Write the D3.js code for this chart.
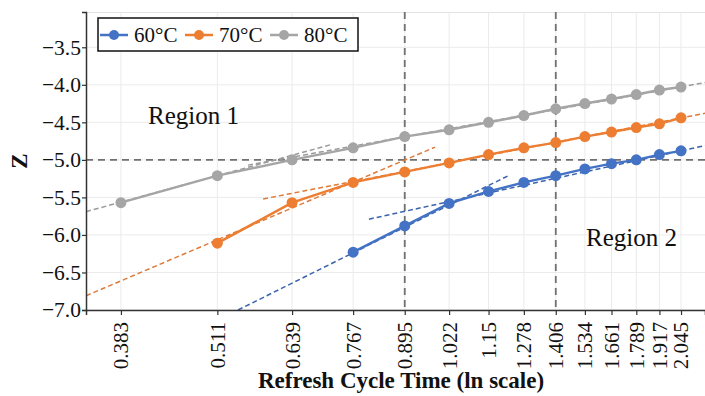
<!DOCTYPE html>
<html>
<head>
<meta charset="utf-8">
<script src="https://cdn.jsdelivr.net/npm/d3@7"></script>
<style>
  body { margin: 0; background: #fff; }
  svg text { font-family: "Liberation Serif", "Times New Roman", serif; fill: #111; }
</style>
</head>
<body>
<script>
// refresh cycle time ticks (ln scale)
const xTicks = [0.383, 0.511, 0.639, 0.767, 0.895, 1.022, 1.15, 1.278, 1.406, 1.534, 1.661, 1.789, 1.917, 2.045];
const xTickLabels = ["0.383", "0.511", "0.639", "0.767", "0.895", "1.022", "1.15", "1.278", "1.406", "1.534", "1.661", "1.789", "1.917", "2.045"];
const yTicks = [-3.5, -4.0, -4.5, -5.0, -5.5, -6.0, -6.5, -7.0];

const seriesNames = ["60°C", "70°C", "80°C"];
const z60 = [null, null, null, -6.23, -5.88, -5.58, -5.42, -5.30, -5.21, -5.12, -5.05, -5.00, -4.93, -4.88];
const z70 = [null, -6.11, -5.57, -5.30, -5.16, -5.04, -4.93, -4.84, -4.77, -4.69, -4.63, -4.57, -4.52, -4.44];
const z80 = [-5.57, -5.21, -5.00, -4.84, -4.69, -4.60, -4.50, -4.41, -4.32, -4.25, -4.19, -4.13, -4.07, -4.03];

// fitted lines [x1, z1, x2, z2]
const fit60 = [[0.5436, -7.0, 1.226, -5.20], [0.804, -5.79, 2.197, -4.81]];
const fit70 = [[0.345, -6.81, 0.980, -4.83], [0.586, -5.52, 2.197, -4.38]];
const fit80 = [[0.345, -5.69, 0.716, -4.80], [0.560, -5.07, 2.197, -3.97]];

// region boundaries
const vLines = [0.895, 1.406];
const hLine = -5.0;

const colors = ["#4472C4", "#ED7D31", "#A5A5A5"];
const fitColors = ["#3A63AE", "#DE7A3A", "#9A9A9A"];

const w = 705, h = 396;
const padL = 86, padR = 705, padT = 12, padB = 310;

const svg = d3.select("body").append("svg").attr("width", w).attr("height", h);

const x = d3.scaleLog().domain([0.345, 2.197]).range([padL, padR]);
const y = d3.scaleLinear().domain([-7.0, -3.03]).range([padB, padT]);

svg.append("defs").append("clipPath").attr("id", "plot")
  .append("rect").attr("x", padL).attr("y", padT).attr("width", padR - padL).attr("height", padB - padT);

// grid
svg.append("g").selectAll("line").data(xTicks).join("line")
  .attr("x1", d => x(d)).attr("x2", d => x(d)).attr("y1", padT).attr("y2", padB)
  .attr("stroke", "#ebebeb").attr("stroke-width", 1);
svg.append("g").selectAll("line").data(yTicks).join("line")
  .attr("x1", padL).attr("x2", padR).attr("y1", d => y(d)).attr("y2", d => y(d))
  .attr("stroke", "#ebebeb").attr("stroke-width", 1);
svg.append("line").attr("x1", padL).attr("x2", padR).attr("y1", padT + 0.5).attr("y2", padT + 0.5)
  .attr("stroke", "#e4e4e4");

// region lines
const plot = svg.append("g").attr("clip-path", "url(#plot)");
plot.selectAll(".vref").data(vLines).join("line")
  .attr("x1", d => x(d)).attr("x2", d => x(d)).attr("y1", padT).attr("y2", padB)
  .attr("stroke", "#707070").attr("stroke-width", 1.8).attr("stroke-dasharray", "7,5");
plot.append("line")
  .attr("x1", padL).attr("x2", padR).attr("y1", y(hLine)).attr("y2", y(hLine))
  .attr("stroke", "#707070").attr("stroke-width", 1.8).attr("stroke-dasharray", "7,5");

// fit lines
[fit60, fit70, fit80].forEach((fits, i) => {
  plot.append("g").selectAll("line").data(fits).join("line")
    .attr("x1", d => x(d[0])).attr("y1", d => y(d[1]))
    .attr("x2", d => x(d[2])).attr("y2", d => y(d[3]))
    .attr("stroke", fitColors[i]).attr("stroke-width", 1.5).attr("stroke-dasharray", "5,3");
});

// series
const line = d3.line().x(d => x(d[0])).y(d => y(d[1]));
[z60, z70, z80].forEach((zs, i) => {
  const pts = xTicks.map((t, j) => [t, zs[j]]).filter(d => d[1] !== null);
  plot.append("path").datum(pts).attr("d", line)
    .attr("fill", "none").attr("stroke", colors[i]).attr("stroke-width", 2.5);
  plot.append("g").selectAll("circle").data(pts).join("circle")
    .attr("cx", d => x(d[0])).attr("cy", d => y(d[1])).attr("r", 5.5)
    .attr("fill", colors[i]);
});

// axes
const xAxis = svg.append("g").attr("transform", `translate(0,${padB})`)
  .call(d3.axisBottom(x).tickValues(xTicks).tickSize(5).tickFormat((d, i) => xTickLabels[i]));
xAxis.select(".domain").attr("stroke", "#333").attr("stroke-width", 1.5);
xAxis.selectAll(".tick line").attr("stroke", "#333").attr("stroke-width", 1.2);
xAxis.selectAll(".tick text")
  .attr("font-size", 21).attr("fill", "#111")
  .attr("text-anchor", "end").attr("x", 0).attr("y", 0)
  .attr("dy", "0.33em")
  .attr("transform", "translate(0,12) rotate(-90)");

const yAxis = svg.append("g").attr("transform", `translate(${padL},0)`)
  .call(d3.axisLeft(y).tickValues(yTicks).tickSize(4).tickFormat(d3.format(".1f")));
yAxis.select(".domain").attr("stroke", "#333").attr("stroke-width", 1.5);
yAxis.selectAll(".tick line").attr("stroke", "#333").attr("stroke-width", 1.2);
yAxis.selectAll(".tick text")
  .attr("font-size", 21.5).attr("fill", "#111")
  .attr("x", -5);

// axis titles
svg.append("text").attr("x", 401).attr("y", 388)
  .attr("text-anchor", "middle").attr("font-size", 23).attr("font-weight", "bold")
  .text("Refresh Cycle Time (ln scale)");
svg.append("text").attr("transform", `translate(27,${(padT + padB) / 2}) rotate(-90)`)
  .attr("text-anchor", "middle").attr("font-size", 23).attr("font-weight", "bold")
  .text("Z");

// region labels
svg.append("text").attr("x", 148).attr("y", 124).attr("font-size", 25).text("Region 1");
svg.append("text").attr("x", 586).attr("y", 246).attr("font-size", 25).text("Region 2");

// legend
const lg = svg.append("g");
lg.append("rect").attr("x", 98).attr("y", 18).attr("width", 260).attr("height", 33)
  .attr("fill", "#fff").attr("stroke", "#111").attr("stroke-width", 1.5);
const lgX = [100, 185, 270];
seriesNames.forEach((name, i) => {
  lg.append("line").attr("x1", lgX[i]).attr("x2", lgX[i] + 28).attr("y1", 35).attr("y2", 35)
    .attr("stroke", colors[i]).attr("stroke-width", 2.5);
  lg.append("circle").attr("cx", lgX[i] + 14).attr("cy", 35).attr("r", 5).attr("fill", colors[i]);
  lg.append("text").attr("x", lgX[i] + 34).attr("y", 42).attr("font-size", 21).text(name);
});
</script>
</body>
</html>
